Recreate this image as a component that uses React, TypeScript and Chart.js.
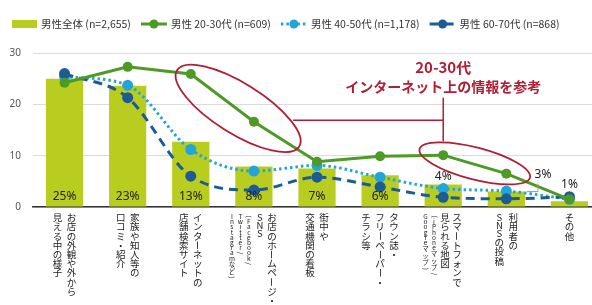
import { useEffect, useRef } from "react";
import { Chart, registerables } from "chart.js";

Chart.register(...registerables);

const JP = '"Noto Sans CJK JP", "Noto Sans", sans-serif';

// Category labels: columns of vertical text, read right to left
const categoryColumns: string[][] = [
  ["お店の外観や外から", "見える中の様子"],
  ["家族や知人等の", "口コミ・紹介"],
  ["インターネットの", "店舗検索サイト"],
  ["お店のホームページ・", "SNS"],
  ["街中や", "交通機関の看板"],
  ["タウン誌・", "フリーペーパー・", "チラシ等"],
  ["スマートフォンで", "見られる地図"],
  ["利用者の", "SNSの投稿"],
  ["その他"],
];
const categoryNotes: string[][] = [
  [],
  [],
  [],
  ["(Facebook/", "Twitter/", "Instagramなど)"],
  [],
  [],
  ["(iPhoneマップ/", "Googleマップ)"],
  [],
  [],
];

const seriesAll = [25.0, 23.6, 12.7, 7.9, 7.5, 6.2, 4.4, 3.0, 1.1];
const series2030 = [24.2, 27.3, 25.9, 16.6, 8.8, 9.9, 10.1, 6.5, 1.5];
const series4050 = [25.4, 23.7, 11.2, 7.0, 8.1, 5.8, 3.6, 3.1, 1.5];
const series6070 = [26.0, 21.3, 6.0, 3.3, 5.8, 3.9, 1.9, 1.6, 2.0];
const pctLabels = ["25%", "23%", "13%", "8%", "7%", "6%", "4%", "3%", "1%"];
const yTicks = [0, 10, 20, 30];

const legendAll = "男性全体 (n=2,655)";
const legend2030 = "男性 20-30代 (n=609)";
const legend4050 = "男性 40-50代 (n=1,178)";
const legend6070 = "男性 60-70代 (n=868)";
const calloutLines = ["20-30代", "インターネット上の情報を参考"];

const BAR = "#b8cd1f";
const GREEN = "#4d9a25";
const LBLUE = "#23a5da";
const DBLUE = "#1c5b93";
const RED = "#b01e35";

const ROTATE = new Set(["ー", "(", ")", "（", "）", "-", "〜", "/"]);

function drawVertical(
  ctx: CanvasRenderingContext2D,
  text: string,
  x: number,
  y0: number,
  size: number,
  cjkStep: number,
  latinStep: number
) {
  let y = y0;
  ctx.font = `${size}px ${JP}`;
  ctx.textAlign = "center";
  ctx.textBaseline = "middle";
  for (const ch of Array.from(text)) {
    const latin = ch.charCodeAt(0) < 0x2000;
    const step = latin ? latinStep : cjkStep;
    const cy = y + step / 2;
    if (ROTATE.has(ch)) {
      ctx.save();
      ctx.translate(x, cy);
      ctx.rotate(Math.PI / 2);
      ctx.fillText(ch, 0, 0);
      ctx.restore();
    } else {
      ctx.fillText(ch, x, cy);
    }
    y += step;
  }
}

const labelPlugin = {
  id: "verticalLabels",
  afterDraw(chart: any) {
    const { ctx, scales } = chart;
    const x = scales.x;
    const y0 = chart.chartArea.bottom + 6;
    ctx.save();
    ctx.fillStyle = "#222";
    categoryColumns.forEach((cols, i) => {
      const notes = categoryNotes[i];
      const offs: number[] = [];
      let pos = 0;
      cols.forEach((_, k) => {
        if (k > 0) pos -= notes.length ? 12 : 14;
        offs.push(pos);
      });
      notes.forEach((_, k) => {
        pos -= k === 0 ? 11 : 8.5;
        offs.push(pos);
      });
      const mid = (offs[0] + offs[offs.length - 1]) / 2 + (notes.length ? 2 : 0);
      const cx = x.getPixelForValue(i);
      cols.forEach((c, k) => {
        drawVertical(ctx, c, cx + offs[k] - mid, y0, 9.5, 9.2, 8.3);
      });
      notes.forEach((c, k) => {
        drawVertical(ctx, c, cx + offs[cols.length + k] - mid, y0 + 1, 6.5, 7, 5.2);
      });
    });
    ctx.restore();
  },
};

const legendPlugin = {
  id: "customLegend",
  afterDraw(chart: any) {
    const { ctx } = chart;
    const cy = 24;
    let x = 12;
    ctx.save();
    ctx.font = `10.5px ${JP}`;
    ctx.textBaseline = "middle";
    ctx.textAlign = "left";
    chart.data.datasets.forEach((d: any, idx: number) => {
      if (idx === 0) {
        ctx.fillStyle = d.backgroundColor;
        ctx.fillRect(x, cy - 4, 25, 8);
        x += 29;
      } else {
        ctx.strokeStyle = d.borderColor;
        ctx.lineWidth = 3;
        ctx.setLineDash(d.borderDash || []);
        ctx.beginPath();
        ctx.moveTo(x, cy);
        ctx.lineTo(x + 26, cy);
        ctx.stroke();
        ctx.setLineDash([]);
        ctx.fillStyle = d.borderColor;
        ctx.beginPath();
        ctx.arc(x + 13, cy, 4.5, 0, Math.PI * 2);
        ctx.fill();
        x += 30;
      }
      ctx.fillStyle = "#333";
      ctx.fillText(d.label, x, cy);
      x += ctx.measureText(d.label).width + 10;
    });
    ctx.restore();
  },
};

const annotationPlugin = {
  id: "annotations",
  afterDatasetsDraw(chart: any) {
    const { ctx, scales } = chart;
    const x = scales.x;
    const y = scales.y;
    const bar = chart.getDatasetMeta(0);
    ctx.save();
    // percent labels
    ctx.font = `12px "Noto Sans", sans-serif`;
    ctx.fillStyle = "#222";
    ctx.textAlign = "center";
    ctx.textBaseline = "middle";
    pctLabels.forEach((t, i) => {
      const el = bar.data[i];
      const h = el.base - el.y;
      const cx = x.getPixelForValue(i);
      if (i === 7) {
        const right = el.x + el.width / 2;
        ctx.strokeStyle = "#999";
        ctx.lineWidth = 1;
        ctx.beginPath();
        ctx.moveTo(right + 2, el.y);
        ctx.lineTo(right + 13, el.y);
        ctx.lineTo(right + 13, el.y - 8);
        ctx.stroke();
        ctx.fillText(t, right + 18, el.y - 17);
      } else if (h > 25) {
        ctx.fillText(t, cx, el.base - 10);
      } else {
        let top = el.y;
        [series4050, series6070].forEach((s) => {
          top = Math.min(top, y.getPixelForValue(s[i]) - 5);
        });
        ctx.fillText(t, cx, top - 7);
      }
    });

    // ellipses
    ctx.strokeStyle = RED;
    ctx.lineWidth = 1.8;
    ctx.beginPath();
    ctx.ellipse(x.getPixelForValue(2.75), y.getPixelForValue(19.2), 72, 25, (32 * Math.PI) / 180, 0, Math.PI * 2);
    ctx.stroke();
    ctx.beginPath();
    ctx.ellipse(x.getPixelForValue(6.5), y.getPixelForValue(8.5), 57, 16, (14.5 * Math.PI) / 180, 0, Math.PI * 2);
    ctx.stroke();

    // bracket
    const bx = x.getPixelForValue(6);
    const hy = y.getPixelForValue(16.9);
    ctx.lineWidth = 1.5;
    ctx.beginPath();
    ctx.moveTo(x.getPixelForValue(3.62), hy);
    ctx.lineTo(bx, hy);
    ctx.moveTo(bx, y.getPixelForValue(21.3));
    ctx.lineTo(bx, y.getPixelForValue(12.8));
    ctx.stroke();

    // callout text
    ctx.fillStyle = RED;
    ctx.font = `bold 15px ${JP}`;
    ctx.fillText(calloutLines[0], bx, y.getPixelForValue(27.2));
    ctx.font = `bold 14px ${JP}`;
    ctx.fillText(calloutLines[1], bx, y.getPixelForValue(23.5));
    ctx.restore();
  },
};

export default function App() {
  const ref = useRef<HTMLCanvasElement | null>(null);
  useEffect(() => {
    document.body.style.margin = "0";
    document.body.style.overflow = "hidden";
    const labels = categoryColumns.map((c) => c.join(""));
    const chart = new Chart(ref.current as HTMLCanvasElement, {
      type: "bar",
      data: {
        labels,
        datasets: [
          {
            type: "bar",
            label: legendAll,
            data: seriesAll,
            backgroundColor: BAR,
            categoryPercentage: 1,
            barPercentage: 0.59,
            order: 10,
          } as any,
          {
            type: "line",
            label: legend2030,
            data: series2030,
            borderColor: GREEN,
            backgroundColor: GREEN,
            borderWidth: 3,
            pointRadius: 5,
            pointBackgroundColor: GREEN,
            pointBorderWidth: 0,
            tension: 0,
            order: 1,
          } as any,
          {
            type: "line",
            label: legend4050,
            data: series4050,
            borderColor: LBLUE,
            backgroundColor: LBLUE,
            borderWidth: 3,
            borderDash: [2.5, 3],
            pointRadius: 5.5,
            pointBackgroundColor: LBLUE,
            pointBorderWidth: 0,
            cubicInterpolationMode: "monotone",
            order: 3,
          } as any,
          {
            type: "line",
            label: legend6070,
            data: series6070,
            borderColor: DBLUE,
            backgroundColor: DBLUE,
            borderWidth: 3,
            borderDash: [9, 6],
            pointRadius: 5.5,
            pointBackgroundColor: DBLUE,
            pointBorderWidth: 0,
            cubicInterpolationMode: "monotone",
            order: 2,
          } as any,
        ],
      },
      options: {
        responsive: false,
        animation: false,
        layout: { padding: { top: 53, right: 9, left: 0, bottom: 0 } },
        plugins: { legend: { display: false }, tooltip: { enabled: false } },
        scales: {
          x: {
            grid: { display: false },
            border: { display: true, color: "#333", width: 1.5 },
            ticks: { display: false },
            afterFit: (s: any) => {
              s.height = 98;
            },
          },
          y: {
            min: 0,
            max: 30,
            afterBuildTicks: (s: any) => {
              s.ticks = yTicks.map((v) => ({ value: v }));
            },
            grid: { color: "#dcdcdc", drawTicks: false, lineWidth: 1 },
            border: { display: false },
            ticks: {
              color: "#555",
              padding: 12,
              font: { size: 10, family: '"Noto Sans", sans-serif' },
            },
            afterFit: (s: any) => {
              s.width = 33;
            },
          },
        },
      },
      plugins: [annotationPlugin, labelPlugin, legendPlugin],
    });
    return () => chart.destroy();
  }, []);
  return (
    <div style={{ position: "fixed", left: 0, top: 0, width: 610, height: 305, overflow: "hidden" }}>
      <canvas ref={ref} width={610} height={305} style={{ width: 610, height: 305 }} />
    </div>
  );
}
